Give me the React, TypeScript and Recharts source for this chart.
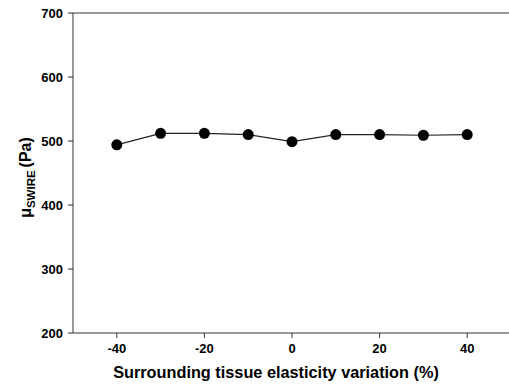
import { LineChart, Line, XAxis, YAxis, ReferenceLine, Label } from 'recharts';

// tissue elasticity variation (%) and the SWIRE shear modulus
const variation = [-40, -30, -20, -10, 0, 10, 20, 30, 40];
const muSwire = [494, 512, 512, 510, 499, 510, 510, 509, 510];
const xTicks = [-40, -20, 0, 20, 40];
const yTicks = [200, 300, 400, 500, 600, 700];

const data = variation.map((v, i) => ({ x: v, mu: muSwire[i] }));

const FONT = '"Liberation Sans", Arial, sans-serif';
const AXIS = '#333333';

// rotated y title with the SWIRE subscript
const YTitle = () => (
  <text
    transform="translate(31,177.5) rotate(-90)"
    textAnchor="middle"
    fontFamily={FONT}
    fontWeight="bold"
    fontSize={16}
    fill="#000"
  >
    <tspan>μ</tspan>
    <tspan fontSize={11.5} dy={3.5}>SWIRE</tspan>
    <tspan dy={-3.5} dx={3}>(Pa)</tspan>
  </text>
);

const XTitle = () => (
  <text x={276} y={378} textAnchor="middle" fontFamily={FONT} fontWeight="bold" fontSize={16.3} fill="#000">
    Surrounding tissue elasticity variation (%)
  </text>
);

export default function App() {
  return (
    <div style={{ position: 'absolute', left: 0, top: 0, width: 509, height: 385, overflow: 'hidden', background: '#fff' }}>
      <LineChart width={511} height={385} data={data} margin={{ top: 13, right: 0, bottom: 0, left: 0 }}>
        <XAxis
          dataKey="x"
          type="number"
          domain={[-50, 50]}
          ticks={xTicks}
          height={52}
          stroke={AXIS}
          tickSize={5}
          tick={{ fill: '#000', fontFamily: FONT, fontWeight: 'bold', fontSize: 13 }}
          tickMargin={6}
        >
          <Label content={<XTitle />} />
        </XAxis>
        <YAxis
          type="number"
          domain={[200, 700]}
          ticks={yTicks}
          width={73}
          stroke={AXIS}
          tickSize={5}
          tickMargin={5}
          tick={{ fill: '#000', fontFamily: FONT, fontWeight: 'bold', fontSize: 13 }}
          label={<YTitle />}
        />
        <ReferenceLine y={700} stroke={AXIS} strokeWidth={1} />
        <Line
          dataKey="mu"
          stroke="#222"
          strokeWidth={1.2}
          dot={{ r: 5.5, fill: '#000', stroke: 'none' }}
          isAnimationActive={false}
        />
      </LineChart>
    </div>
  );
}
